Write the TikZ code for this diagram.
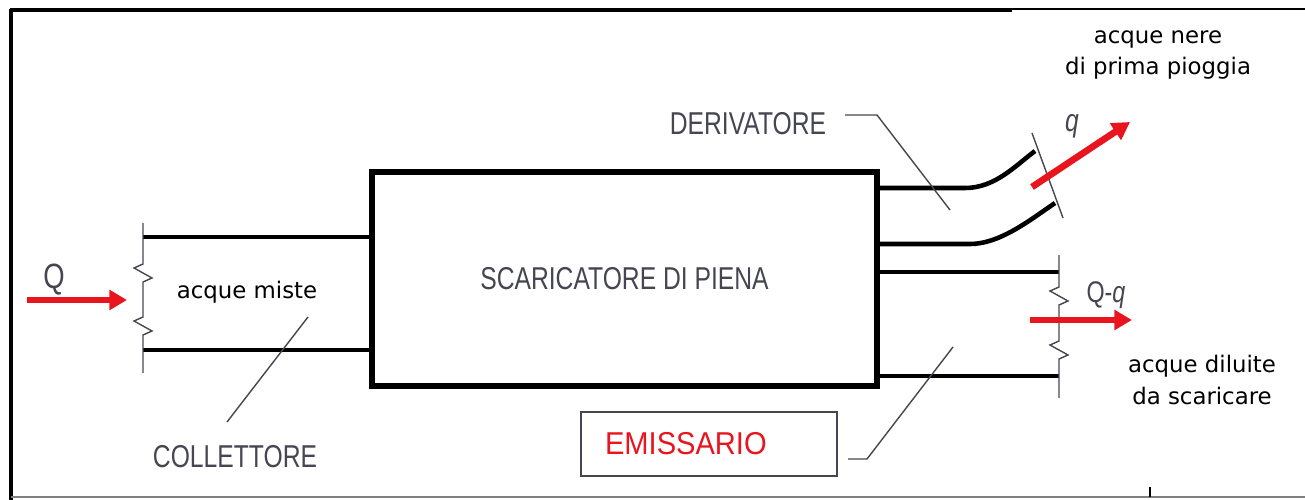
\documentclass[tikz,border=0pt]{standalone}
\usepackage{fontspec}
\setmainfont{DejaVu Sans}
\newfontfamily\narrowfont[FakeStretch=0.78]{Liberation Sans}
\newfontfamily\emissfont[FakeStretch=0.92]{Liberation Sans}
\usetikzlibrary{arrows.meta}
\definecolor{grigio}{RGB}{70,70,82}
\definecolor{rosso}{RGB}{232,20,30}
\tikzset{
  tubo/.style={line width=2.6pt},
  guida/.style={line width=0.8pt, grigio},
  bordo/.style={line width=0.9pt, grigio},
  freccia/.style={rosso, line width=3.8pt, -{Triangle[length=10pt,width=11pt]}},
  etichetta/.style={text=grigio, font=\narrowfont\fontsize{18}{20}\selectfont},
  testo/.style={font=\fontsize{13}{18}\selectfont, align=center},
}
\begin{document}
\begin{tikzpicture}[x=0.02cm, y=-0.02cm]
\useasboundingbox (0,0) rectangle (1305,500);
% cadre
\draw[line width=2.8pt] (10,10) -- (1012,10); % haut
\draw[line width=1.2pt] (1012,9) -- (1305,9);
\draw[line width=1.8pt] (11,9) -- (11,500); % gauche
\draw[line width=0.8pt, gray] (11,497) -- (1305,497); % bas
\draw[line width=0.6pt] (1150,487) -- (1150,497);
% scaricatore
\node[draw, line width=3.2pt, minimum width=10.1cm, minimum height=4.28cm, etichetta] (scaricatore) at (624.5,279) {SCARICATORE DI PIENA};
% collettore
\coordinate (collA) at (143,237);
\coordinate (collB) at (143,350);
\draw[tubo] (collA) -- (collA -| scaricatore.west);
\draw[tubo] (collB) -- (collB -| scaricatore.west);
\draw[guida] (143,223) -- (143,264) -- (134,268) -- (152,278) -- (143,282) -- (143,317) -- (134,321) -- (152,331) -- (143,335) -- (143,373); % rupture
% derivatore
\coordinate (derA) at (877,188);
\coordinate (derB) at (877,244);
\draw[tubo] (derA) -- (965,188) .. controls (995,188) and (1015,166) .. (1035,151);
\draw[tubo] (derB) -- (970,244) .. controls (1000,244) and (1030,220) .. (1055,203);
\draw[guida] (1032,133) -- (1063,218);
% emissario
\coordinate (emiA) at (877,272);
\coordinate (emiB) at (877,376);
\draw[tubo] (emiA) -- (1059,272);
\draw[tubo] (emiB) -- (1059,376);
\draw[guida] (1059,255) -- (1059,287) -- (1050,291) -- (1068,301) -- (1059,305) -- (1059,341) -- (1050,345) -- (1068,355) -- (1059,359) -- (1059,398); % rupture
% portate
\coordinate (qin) at (27,300);
\coordinate (qinfine) at (127,300);
\draw[freccia] (qin) -- (qinfine);
\node[etichetta, font=\narrowfont\fontsize{20}{22}\selectfont] (Q) at (54,280) {Q};
\coordinate (qder) at (1032,187);
\coordinate (qderfine) at (1130,122);
\draw[freccia] (qder) -- (qderfine);
\node[etichetta, font=\narrowfont\itshape\fontsize{18}{20}\selectfont] (q) at (1072,126) {q};
\coordinate (qemi) at (1030,320);
\coordinate (qemifine) at (1132,320);
\draw[freccia] (qemi) -- (qemifine);
\node[etichetta, font=\narrowfont\fontsize{17}{19}\selectfont] (Qq) at (1106,295) {Q-\textit{q}};
% testi
\node[testo] (miste) at (247,292) {acque miste};
\node[testo] (nere) at (1158,55) {acque nere\\di prima pioggia};
\node[testo] (diluite) at (1202,380) {acque diluite\\da scaricare};
% etichette con richiamo
\node[etichetta] (derivatore) at (748,124) {DERIVATORE};
\coordinate (derpunta) at (950,210);
\draw[guida] (845,115) -- (877,115) -- (derpunta);
\node[etichetta] (collettore) at (235,457) {COLLETTORE};
\coordinate (collpunta) at (308,317);
\draw[guida] (227,422) -- (collpunta);
\node[bordo, draw, minimum width=5.12cm, minimum height=1.28cm, text width=4.16cm, inner xsep=0.48cm, align=left, text=rosso, font=\emissfont\fontsize{18}{20}\selectfont] (emissario) at (709,444) {EMISSARIO};
\coordinate (emipunta) at (953,347);
\draw[guida] (848,459) -- (867,459) -- (emipunta);
\end{tikzpicture}
\end{document}
